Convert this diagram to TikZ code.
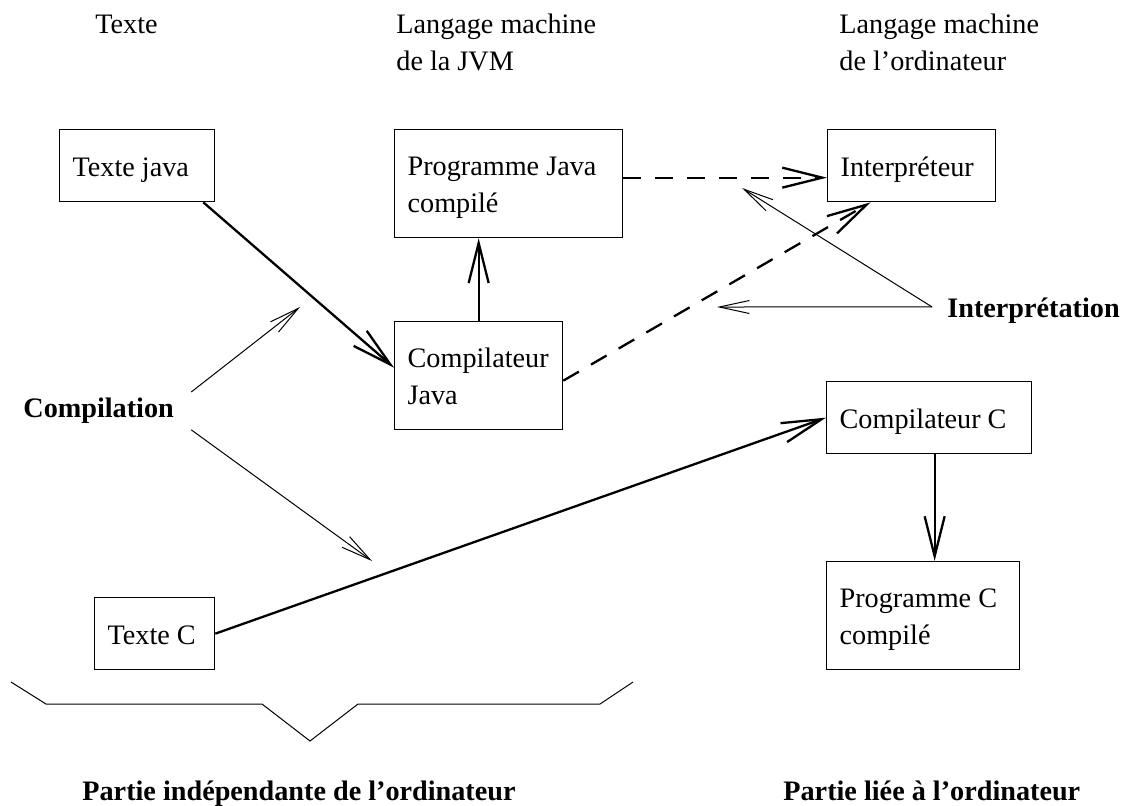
\documentclass[tikz,border=0pt]{standalone}
\usepackage{fontspec}
\setmainfont{Liberation Serif}
\usetikzlibrary{arrows.meta}
\hyphenpenalty=10000
\newcommand{\lig}{\spaceskip=0pt\xspaceskip=0pt\rule[-4pt]{0pt}{18.5pt}}
\tikzset{boite/.style = {draw, line width = 0.65pt, inner xsep = 6.5pt, inner ysep = 0,
                         align = left, anchor = north west}}
\tikzset{titre/.style = {inner sep = 0, align = left, anchor = north west}}
\tikzset{epais/.style = {-{Straight Barb[length = 20pt, width = 10pt]}, line width = 1.15pt}}
\tikzset{pointille/.style = {epais, dash pattern = on 9pt off 7pt}}
\tikzset{fin/.style = {-{Straight Barb[length = 15pt, width = 6.5pt]}, line width = 0.5pt}}

\begin{document}
\begin{tikzpicture}[x = 0.5pt, y = -0.5pt, font = \fontsize{14.1}{18.5}\selectfont]
    \useasboundingbox (0, 0) rectangle (1129, 805);
    \node [titre] (ttexte) at (95, 4) {\lig Texte};
    \node [titre] (tjvm) at (396, 4) {\lig Langage machine\\\lig de la JVM};
    \node [titre] (tordi) at (839, 4) {\lig Langage machine\\\lig de l’ordinateur};
    \node [boite, text width = 64.5pt, minimum height = 36pt] (tjava) at (59, 129) {\lig Texte java};
    \node [boite, text width = 101pt, minimum height = 54pt] (pjava) at (394, 129) {\lig Programme Java\\\lig compilé};
    \node [boite, text width = 71pt, minimum height = 36pt] (interp) at (827, 129) {\lig Interpréteur};
    \node [boite, text width = 71pt, minimum height = 54pt] (cjava) at (394, 321) {\lig Compilateur\\\lig Java};
    \node [boite, text width = 89.5pt, minimum height = 36pt] (compc) at (826, 381) {\lig Compilateur C};
    \node [boite, text width = 83.5pt, minimum height = 54pt] (progc) at (826, 561) {\lig Programme C\\\lig compilé};
    \node [boite, text width = 47pt, minimum height = 36pt] (textec) at (94, 597) {\lig Texte C};
    \node [titre, font = \fontsize{14.1}{18.5}\selectfont\bfseries] (compil) at (23, 388) {\lig Compilation};
    \node [titre, font = \fontsize{14.1}{18.5}\selectfont\bfseries] (interpl) at (947, 288) {\lig Interprétation};
    \node [titre, font = \fontsize{14.1}{18.5}\selectfont\bfseries] (pindep) at (82, 771) {\lig Partie indépendante de l’ordinateur};
    \node [titre, font = \fontsize{14.1}{18.5}\selectfont\bfseries] (plie) at (783, 771) {\lig Partie liée à l’ordinateur};
    \draw [epais] ([xshift=-6pt]tjava.south east) -- ([yshift=4pt]cjava.west);
    \draw [epais] (cjava.north) -- (cjava.north |- pjava.south);
    \draw [pointille] ([yshift=3pt]pjava.east) -- ([yshift=3pt]pjava.east -| interp.west);
    \draw [pointille] ([yshift=-2.5pt]cjava.east) -- ([xshift=-20.5pt]interp.south);
    \draw [epais] (textec.east) -- (compc.west);
    \draw [epais] ([xshift=2.75pt]compc.south) -- ([xshift=2.75pt]compc.south |- progc.north);
    \coordinate (vcjava) at (300, 307);
    \coordinate (vtextec) at (372, 561);
    \coordinate (vinterp) at (742, 188);
    \coordinate (vcomp) at (717, 307);
    \draw [fin] ([xshift=8.5pt, yshift=-2pt]compil.north east) -- (vcjava);
    \draw [fin] ([xshift=8.5pt, yshift=-2pt]compil.south east) -- (vtextec);
    \draw [fin] ([xshift=-7.5pt]interpl.west) -- (vinterp);
    \draw [fin] ([xshift=-7.5pt]interpl.west) -- (vcomp);
    \draw [line width = 0.5pt] (11, 682) -- (46, 704) -- (262, 704) -- (310, 741)
        -- (358, 704) -- (600, 704) -- (633, 682);
\end{tikzpicture}
\end{document}
